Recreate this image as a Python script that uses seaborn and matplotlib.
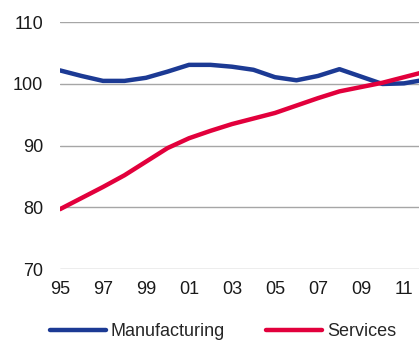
import matplotlib
matplotlib.use("Agg")
import matplotlib.pyplot as plt
import seaborn as sns
import pandas as pd
from matplotlib.lines import Line2D

years = list(range(1995, 2013))
manufacturing = [102.2, 101.3, 100.5, 100.5, 101.0, 102.0, 103.1, 103.1, 102.8, 102.3,
                 101.1, 100.6, 101.3, 102.4, 101.2, 100.0, 100.1, 100.7]
services = [79.7, 81.5, 83.3, 85.2, 87.4, 89.6, 91.2, 92.4, 93.5, 94.4,
            95.3, 96.5, 97.7, 98.8, 99.5, 100.2, 101.1, 102.0]
series_names = ["Manufacturing", "Services"]
xtick_years = [1995, 1997, 1999, 2001, 2003, 2005, 2007, 2009, 2011]
xtick_labels = ["95", "97", "99", "01", "03", "05", "07", "09", "11"]
yticks = [70, 80, 90, 100, 110]

df = pd.DataFrame({
    "year": years * 2,
    "value": manufacturing + services,
    "series": [series_names[0]] * len(years) + [series_names[1]] * len(years),
})

sns.set_style("white")
plt.rcParams["font.family"] = ["Liberation Sans", "DejaVu Sans"]

fig = plt.figure(figsize=(4.19, 3.43), dpi=100)
ax = fig.add_axes([60 / 419, 1 - 269 / 343, 1 - 60 / 419, (269 - 22.3) / 343])

palette = {"Manufacturing": "#1C3A94", "Services": "#E2003C"}
sns.lineplot(data=df, x="year", y="value", hue="series", palette=palette,
             linewidth=3.2, ax=ax, legend=False, zorder=3)

ax.set_xlim(1995, 2011.7)
ax.set_ylim(70, 110)
ax.set_yticks(yticks)
ax.set_xticks(xtick_years)
ax.set_xticklabels(xtick_labels)
ax.grid(axis="y", color="#A6A6A6", linewidth=1.0)
ax.grid(axis="x", visible=False)
for s in ax.spines.values():
    s.set_visible(False)
ax.tick_params(axis="both", length=0, labelsize=13, colors="#1a1a1a")
ax.tick_params(axis="y", pad=12)
ax.tick_params(axis="x", pad=9)
ax.set_xlabel("")
ax.set_ylabel("")

handles = [Line2D([], [], color=palette[n], linewidth=3.2, solid_capstyle="round") for n in series_names]
fig.legend(handles, series_names, loc="center left",
           bbox_to_anchor=(50 / 419, 11 / 343), bbox_transform=fig.transFigure,
           ncol=2, frameon=False, fontsize=13, handlelength=3.1,
           handletextpad=0.25, columnspacing=2.3, borderpad=0, borderaxespad=0)

fig.savefig("out.png", dpi=100)
